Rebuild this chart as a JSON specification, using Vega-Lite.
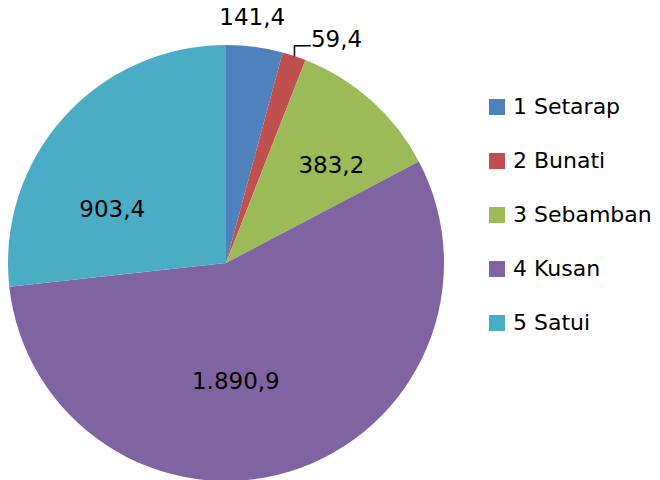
{
  "$schema": "https://vega.github.io/schema/vega-lite/v6.json",
  "width": 452,
  "height": 434,
  "autosize": {"type": "none"},
  "padding": {"left": 0, "top": 46, "right": 208, "bottom": 0},
  "background": "white",
  "config": {"view": {"stroke": null}, "font": "DejaVu Sans"},
  "data": {
    "values": [
      {"name": "1 Setarap", "value": 141.4, "label": "141,4"},
      {"name": "2 Bunati", "value": 59.4, "label": "59,4"},
      {"name": "3 Sebamban", "value": 383.2, "label": "383,2"},
      {"name": "4 Kusan", "value": 1890.9, "label": "1.890,9"},
      {"name": "5 Satui", "value": 903.4, "label": "903,4"}
    ]
  },
  "encoding": {
    "theta": {"field": "value", "type": "quantitative", "stack": true},
    "order": {"field": "name", "type": "ordinal", "sort": "ascending"}
  },
  "layer": [
    {
      "mark": {"type": "arc", "radius": 218},
      "encoding": {
        "color": {
          "field": "name",
          "type": "nominal",
          "scale": {
            "domain": ["1 Setarap", "2 Bunati", "3 Sebamban", "4 Kusan", "5 Satui"],
            "range": ["#4F81BD", "#C0504D", "#9BBB59", "#8064A2", "#4BACC6"]
          },
          "legend": {
            "title": null,
            "orient": "none",
            "legendX": 486,
            "legendY": 50,
            "symbolType": "square",
            "symbolSize": 256,
            "symbolStrokeWidth": 0,
            "labelFontSize": 22,
            "labelFont": "DejaVu Sans",
            "labelColor": "#000000",
            "labelOffset": 5,
            "rowPadding": 32,
            "padding": 0
          }
        }
      }
    },
    {
      "mark": {"type": "text", "radius": 246, "fontSize": 23, "align": "center", "baseline": "middle", "dx": -6, "dy": -1, "color": "#000000"},
      "encoding": {"text": {"condition": {"test": "datum.name === '1 Setarap'", "field": "label"}, "value": ""}}
    },
    {
      "mark": {"type": "text", "radius": 246, "fontSize": 23, "align": "left", "baseline": "middle", "dx": 8, "dy": 11, "color": "#000000"},
      "encoding": {"text": {"condition": {"test": "datum.name === '2 Bunati'", "field": "label"}, "value": ""}}
    },
    {
      "mark": {"type": "text", "radius": 246, "fontSize": 18, "align": "left", "baseline": "alphabetic", "dx": -14, "dy": 23, "color": "#000000"},
      "encoding": {"text": {"condition": {"test": "datum.name === '2 Bunati'", "value": "┌─"}, "value": ""}}
    },
    {
      "mark": {"type": "text", "radius": 143, "fontSize": 23, "align": "center", "baseline": "middle", "dx": 10, "dy": 10, "color": "#000000"},
      "encoding": {"text": {"condition": {"test": "datum.name === '3 Sebamban'", "field": "label"}, "value": ""}}
    },
    {
      "mark": {"type": "text", "radius": 119, "fontSize": 23, "align": "center", "baseline": "middle", "dx": -25, "dy": 5, "color": "#000000"},
      "encoding": {"text": {"condition": {"test": "datum.name === '4 Kusan'", "field": "label"}, "value": ""}}
    },
    {
      "mark": {"type": "text", "radius": 126, "fontSize": 23, "align": "center", "baseline": "middle", "dx": -20, "dy": 31, "color": "#000000"},
      "encoding": {"text": {"condition": {"test": "datum.name === '5 Satui'", "field": "label"}, "value": ""}}
    }
  ]
}
